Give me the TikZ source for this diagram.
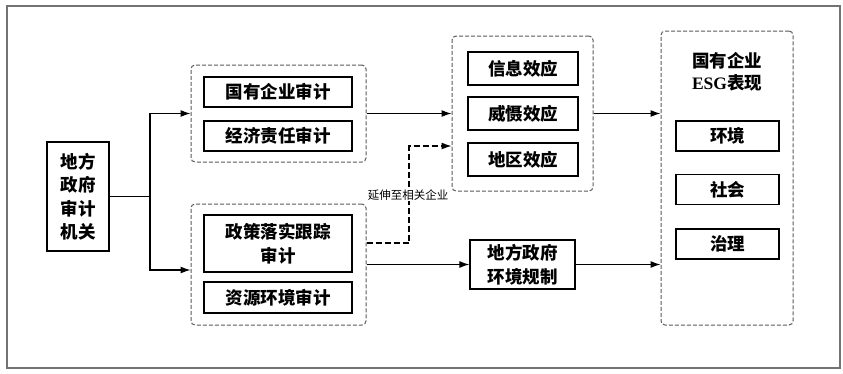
\documentclass[tikz,border=0pt]{standalone}
\usepackage{fontspec}
\setmainfont{Liberation Serif}
\newfontfamily\cjk{Noto Sans CJK SC}
\usetikzlibrary{arrows.meta}
\begin{document}
\begin{tikzpicture}[x=1pt,y=-1pt,
  box/.style={draw,line width=1.3pt,inner sep=0pt,font=\cjk\bfseries\fontsize{17.5}{23.5}\selectfont,align=center},
  grp/.style={draw=black!65,dash pattern=on 4pt off 2pt,line width=1pt,rounded corners=4pt,inner sep=0pt},
  arr/.style={line width=1.1pt,-{Latex[length=10pt,width=7pt]}}]
\useasboundingbox (0,0) rectangle (843,373);
\draw[black!55,line width=1.3pt] (7,6) rectangle (840,368);
\node[box,minimum width=62,minimum height=109] (jiguan) at (78,196.5) {地方\\政府\\审计\\机关};
\node[grp,minimum width=175,minimum height=97] (grpA) at (278.5,113.5) {};
\node[box,minimum width=148,minimum height=30] (gqsj) at (278,92) {国有企业审计};
\node[box,minimum width=148,minimum height=30] (jjzr) at (278,136) {经济责任审计};
\node[grp,minimum width=175,minimum height=121] (grpB) at (278.5,264.5) {};
\node[box,minimum width=148,minimum height=57] (zcls) at (278,243.5) {政策落实跟踪\\审计};
\node[box,minimum width=148,minimum height=31] (zyhj) at (278,297.5) {资源环境审计};
\node[grp,minimum width=141,minimum height=155] (effects) at (522.5,113.5) {};
\node[box,minimum width=110,minimum height=33] (xinxi) at (523,68.5) {信息效应};
\node[box,minimum width=110,minimum height=33] (weishe) at (523,113.5) {威慑效应};
\node[box,minimum width=110,minimum height=33] (diqu) at (523,159.5) {地区效应};
\node[box,minimum width=105,minimum height=49] (guizhi) at (522.5,264.5) {地方政府\\环境规制};
\node[grp,minimum width=132,minimum height=294] (esg) at (727,178) {};
\node[font=\cjk\bfseries\fontsize{17.5}{22}\selectfont,align=center] (esgtitle) at (727,72) {国有企业\\{\rmfamily ESG}表现};
\node[box,minimum width=103,minimum height=30] (huanjing) at (727.5,136) {环境};
\node[box,minimum width=103,minimum height=30] (shehui) at (727.5,189.5) {社会};
\node[box,minimum width=103,minimum height=30] (zhili) at (727.5,244) {治理};
\coordinate (split) at (150,196.5);
\coordinate (bend) at (409,146);
\draw[line width=1.1pt] (jiguan.east) -- (split);
\draw[arr] (split) |- (grpA.west);
\draw[arr] (split) |- ([yshift=-5.5pt]grpB.west);
\draw[arr] (grpA.east) -- (effects.west);
\draw[arr,dash pattern=on 6pt off 3pt] ([yshift=21.5pt]grpB.east) -| (bend) -- (bend -| effects.west);
\node[fill=white,inner sep=1pt,font=\cjk\fontsize{11.5}{11.5}\selectfont] (yanshen) at (408,195) {延伸至相关企业};
\draw[arr] (grpB.east) -- (guizhi.west);
\draw[arr] (effects.east) -- (effects.east -| esg.west);
\draw[arr] (guizhi.east) -- (guizhi.east -| esg.west);
\end{tikzpicture}
\end{document}
